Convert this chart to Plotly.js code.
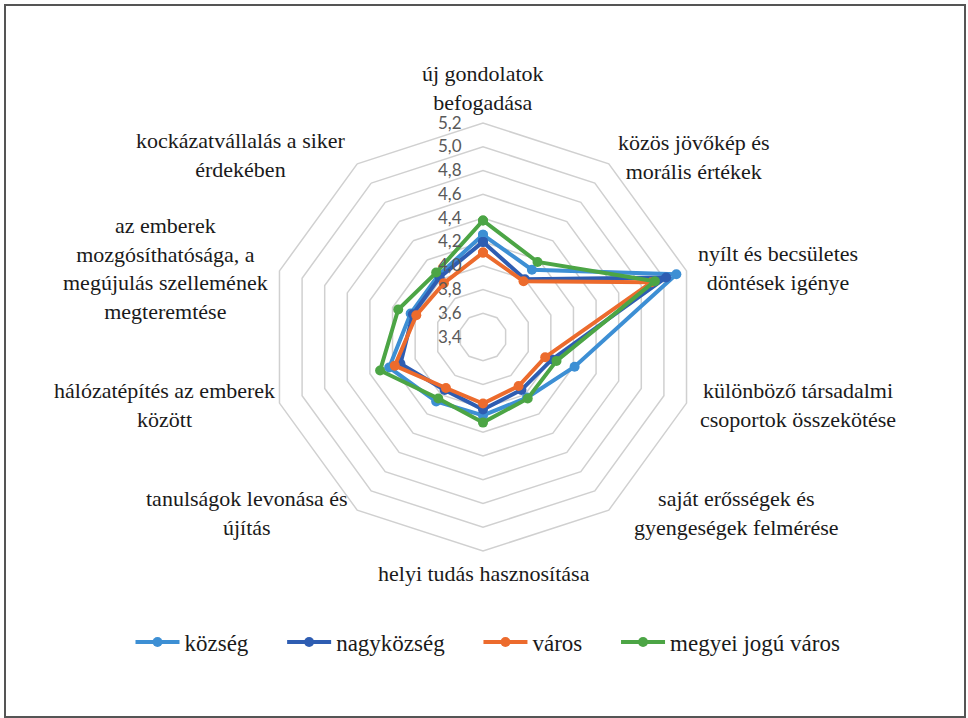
<!DOCTYPE html>
<html>
<head>
<meta charset="utf-8">
<script src="https://cdn.plot.ly/plotly-3.0.1.min.js"></script>
<style>
  body { margin: 0; background: #fff; }
  #grafik { position: absolute; left: 0; top: 0; width: 968px; height: 718px; }
  #keret {
    position: absolute; left: 4px; top: 4px; width: 958px; height: 710px;
    border: 2px solid #555; pointer-events: none;
  }
</style>
</head>
<body>
<div id="grafik"></div>
<div id="keret"></div>
<script>
/* ==========================================================
   ADATOK
========================================================== */
const kategoriak = [
  "új gondolatok<br>befogadása",
  "közös jövőkép és<br>morális értékek",
  "nyílt és becsületes<br>döntések igénye",
  "különböző társadalmi<br>csoportok összekötése",
  "saját erősségek és<br>gyengeségek felmérése",
  "helyi tudás hasznosítása",
  "tanulságok levonása és<br>újítás",
  "hálózatépítés az emberek<br>között",
  "az emberek<br>mozgósíthatósága, a<br>megújulás szellemének<br>megteremtése",
  "kockázatvállalás a siker<br>érdekében"
];

const kozseg      = [4.26, 4.10, 5.11, 4.21, 4.03, 4.06, 4.07, 4.23, 4.04, 4.04];
const nagykozseg  = [4.20, 4.00, 5.02, 4.01, 3.95, 4.01, 3.95, 4.13, 4.02, 4.02];
const varos       = [4.11, 3.98, 4.89, 3.95, 3.91, 3.96, 3.93, 4.18, 3.99, 3.96];
const megyeiJogu  = [4.38, 4.18, 4.92, 4.05, 4.04, 4.12, 4.04, 4.31, 4.15, 4.07];

const sorozatNevek = ["község", "nagyközség", "város", "megyei jogú város"];
const sorozatSzinek = ["#3d8fd4", "#2e5db2", "#ec6b2d", "#4ca545"];

/* ==========================================================
   ELRENDEZES (pixel -> paper)
========================================================== */
const W = 968, H = 718;
const kozepX = 483, kozepY = 337, sugar = 214;
const betu = "Liberation Serif, serif";
const kitolto = "\u00a0\u00a0\u00a0\u00a0\u00a0"; // nagyobb hely a jelmagyarazat elemei kozott

// feliratok kozeppontja pixelben (kategoriak sorrendjeben)
const feliratHely = [
  [483, 88], [694, 157], [778, 268], [798, 405], [736, 513],
  [484, 573], [247, 513], [164, 405], [165, 268], [241, 155]
];

/* ==========================================================
   NYOMVONALAK
========================================================== */
const adatok = [kozseg, nagykozseg, varos, megyeiJogu];
const ids = kategoriak.map((k, i) => "k" + i);

const traces = adatok.map((sor, i) => ({
  type: "scatterpolar",
  r: sor.concat([sor[0]]),
  theta: ids.concat([ids[0]]),
  mode: "lines+markers",
  name: sorozatNevek[i] + (i < adatok.length - 1 ? kitolto : ""),
  line: { color: sorozatSzinek[i], width: 4 },
  marker: { color: sorozatSzinek[i], size: 10 },
  hoverinfo: "r+name"
}));

const annotations = kategoriak.map((k, i) => ({
  text: k,
  xref: "paper", yref: "paper",
  x: feliratHely[i][0] / W,
  y: 1 - feliratHely[i][1] / H,
  xanchor: "center", yanchor: "middle",
  align: "center",
  showarrow: false,
  font: { family: betu, size: 22, color: "#1a1a1a" }
}));

const layout = {
  width: W, height: H,
  margin: { l: 0, r: 0, t: 0, b: 0 },
  paper_bgcolor: "white",
  font: { family: betu, size: 22, color: "#1a1a1a" },
  separators: ", ",
  showlegend: true,
  legend: {
    orientation: "h",
    x: 488 / W, xanchor: "center",
    y: 1 - 642 / H, yanchor: "middle",
    font: { family: betu, size: 23, color: "#1a1a1a" },
    itemwidth: 44
  },
  polar: {
    domain: {
      x: [(kozepX - sugar) / W, (kozepX + sugar) / W],
      y: [(H - kozepY - sugar) / H, (H - kozepY + sugar) / H]
    },
    gridshape: "linear",
    bgcolor: "rgba(0,0,0,0)",
    radialaxis: {
      range: [3.4, 5.2],
      tick0: 3.4,
      dtick: 0.2,
      tickformat: ".1f",
      angle: 90,
      tickangle: 90,
      side: "counterclockwise",
      showline: false,
      ticks: "outside",
      ticklen: 15,
      tickcolor: "rgba(0,0,0,0)",
      gridcolor: "#d0d0d0",
      gridwidth: 1.5,
      tickfont: { family: "Lato, sans-serif", size: 17, color: "#595959" }
    },
    angularaxis: {
      type: "category",
      categoryarray: ids,
      rotation: 90,
      direction: "clockwise",
      showticklabels: false,
      ticks: "",
      showgrid: false,
      showline: true,
      linecolor: "#d0d0d0",
      linewidth: 1.5
    }
  },
  annotations: annotations
};

Plotly.newPlot("grafik", traces, layout, { displayModeBar: false, staticPlot: true });
</script>
</body>
</html>
